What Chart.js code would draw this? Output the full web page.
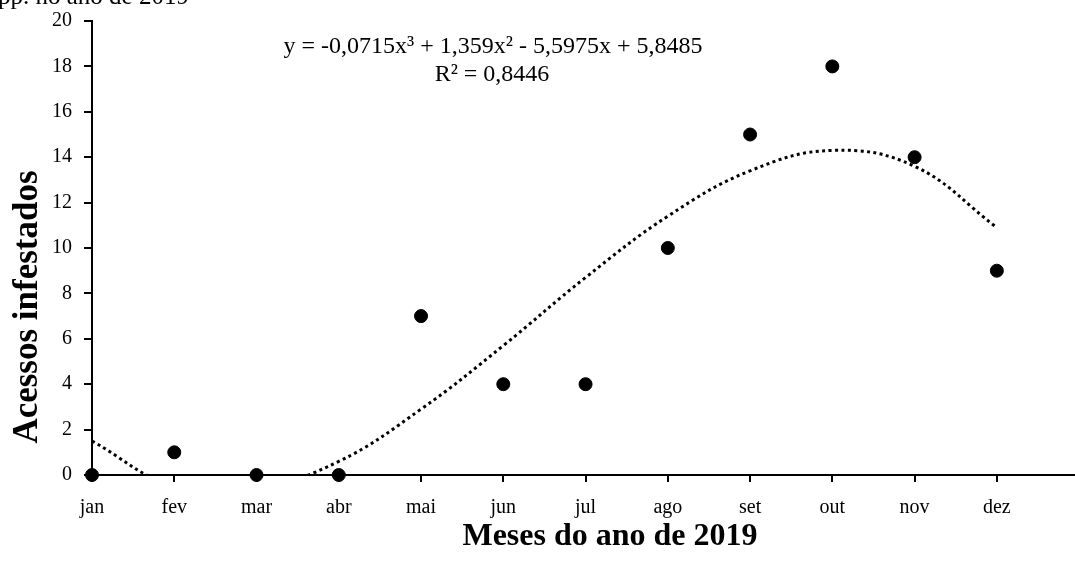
<!DOCTYPE html>
<html>
<head>
<meta charset="utf-8">
<script src="https://cdn.jsdelivr.net/npm/chart.js@4.4.1/dist/chart.umd.min.js"></script>
<style>
  html, body { margin: 0; padding: 0; background: #fff; }
  #wrap { width: 1075px; height: 572px; position: relative; }
</style>
</head>
<body>
<div id="wrap"><canvas id="chart"></canvas></div>
<script>
const months = ['jan', 'fev', 'mar', 'abr', 'mai', 'jun', 'jul', 'ago', 'set', 'out', 'nov', 'dez']
const infestados = [0, 1, 0, 0, 7, 4, 4, 10, 15, 18, 14, 9]
// trend line (values below 0 are hidden by the axis)
const tendencia = [1.5, -0.5, -0.6, 0.6, 2.9, 5.7, 8.7, 11.4, 13.4, 14.3, 13.6, 10.9]
const yTicks = [0, 2, 4, 6, 8, 10, 12, 14, 16, 18, 20]

const serif = "'Liberation Serif', 'Times New Roman', serif"

const textPlugin = {
  id: 'texts',
  afterDraw(chart) {
    const ctx = chart.ctx
    ctx.save()
    ctx.fillStyle = '#000'
    ctx.textBaseline = 'middle'

    ctx.font = `25px ${serif}`
    ctx.textAlign = 'left'
    ctx.fillText('pp. no ano de 2019', -2, -3)

    ctx.font = `24px ${serif}`
    ctx.textAlign = 'center'
    ctx.fillText('y = -0,0715x\u00B3 + 1,359x\u00B2 - 5,5975x + 5,8485', 493, 47)
    ctx.fillText('R\u00B2 = 0,8446', 492, 75)

    ctx.font = `bold 32px ${serif}`
    ctx.fillText('Meses do ano de 2019', 610, 537)

    ctx.font = `bold 35px ${serif}`
    ctx.translate(28, 307)
    ctx.rotate(-Math.PI / 2)
    ctx.fillText('Acessos infestados', 0, 0)
    ctx.restore()
  }
}

new Chart(document.getElementById('chart'), {
  type: 'scatter',
  data: {
    datasets: [
      {
        label: 'Acessos infestados',
        data: infestados.map((v, i) => ({ x: i + 1, y: v })),
        backgroundColor: '#000',
        borderColor: '#000',
        pointRadius: 6.5,
        pointHoverRadius: 6.5,
        clip: false,
        order: 1
      },
      {
        label: 'Polinomial',
        data: tendencia.map((v, i) => ({ x: i + 1, y: v })),
        showLine: true,
        borderColor: '#000',
        borderWidth: 3,
        borderDash: [3, 3.4],
        pointRadius: 0,
        tension: 0.4,
        clip: 0,
        order: 2
      }
    ]
  },
  options: {
    responsive: true,
    maintainAspectRatio: false,
    animation: false,
    layout: { autoPadding: false, padding: { top: 21, right: 0, left: 0, bottom: 0 } },
    plugins: {
      legend: { display: false },
      tooltip: { enabled: false }
    },
    scales: {
      x: {
        type: 'linear',
        min: 1,
        max: 12.95,
        afterFit(scale) {
          scale.height = 97
          scale.paddingLeft = 0
          scale.paddingRight = 0
        },
        afterBuildTicks(scale) { scale.ticks = months.map((m, i) => ({ value: i + 1 })) },
        ticks: {
          callback: (v) => months[v - 1] || '',
          color: '#000',
          font: { family: serif, size: 20 },
          padding: 14,
          maxRotation: 0,
          autoSkip: false
        },
        grid: { drawOnChartArea: false, drawTicks: true, tickLength: 7, color: '#000', lineWidth: 2 },
        border: { display: true, color: '#000', width: 2 }
      },
      y: {
        min: 0,
        max: 20,
        afterFit(scale) {
          scale.width = 92
          scale.paddingTop = 0
          scale.paddingBottom = 0
        },
        afterBuildTicks(scale) { scale.ticks = yTicks.map(v => ({ value: v })) },
        ticks: {
          color: '#000',
          font: { family: serif, size: 20 },
          padding: 12
        },
        grid: { drawOnChartArea: false, drawTicks: true, tickLength: 8, color: '#000', lineWidth: 2 },
        border: { display: true, color: '#000', width: 2 }
      }
    }
  },
  plugins: [textPlugin]
})
</script>
</body>
</html>
